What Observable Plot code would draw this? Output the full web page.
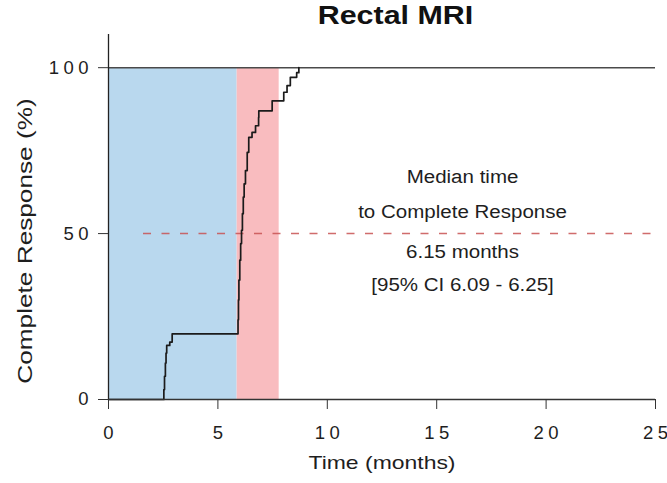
<!DOCTYPE html>
<html><head><meta charset="utf-8">
<script src="https://cdn.jsdelivr.net/npm/d3@7"></script>
<script src="https://cdn.jsdelivr.net/npm/@observablehq/plot@0.6"></script>
<style>
html,body{margin:0;padding:0;background:#fff;}
#title{width:667px;height:33px;line-height:35px;font:bold 26px "Liberation Sans",Arial,sans-serif;text-align:center;color:#111;white-space:nowrap;}
#title span{display:inline-block;transform:scaleX(1.17);margin-left:124px;}
</style></head><body>
<div id="title"><span>Rectal MRI</span></div>
<div id="chart"></div>
<script>
// Kaplan-Meier style cumulative complete response (step-after)
const times = [0, 2.53, 2.56, 2.6, 2.63, 2.66, 2.8, 2.91, 5.92, 5.94, 5.96, 6.0, 6.04, 6.08, 6.12, 6.16, 6.2, 6.26, 6.34, 6.41, 6.56, 6.72, 6.86, 6.87, 7.48, 8.01, 8.16, 8.31, 8.6, 8.7];
const responses = [0, 3, 7, 11, 14, 16.3, 17.3, 19.8, 24, 30, 36, 42, 47, 51, 56, 61, 65, 69, 74.5, 79, 80.5, 82.5, 85, 87, 90, 92.6, 94.6, 97.1, 98.5, 100];
const blueWindow = [0, 5.88];
const pinkWindow = [5.88, 7.8];
const fullResponse = 100;
const medianLevel = 50;
const xTicks = [0, 5, 10, 15, 20, 25];
const yTicks = [0, 50, 100];
const noteLines = ["Median time", "to Complete Response", "6.15 months", "[95% CI 6.09 - 6.25]"];
const noteY = [67, 56.4, 44.4, 34.4];
const xLabel = "Time (months)";
const yLabel = "Complete Response (%)";

const curve = times.map((t, i) => ({t, r: responses[i]}));
const notes = noteLines.map((s, i) => ({s, y: noteY[i]}));

const plot = Plot.plot({
  width: 667, height: 450,
  marginTop: 1, marginBottom: 84, marginLeft: 108, marginRight: 12,
  style: {fontFamily: "'Liberation Sans', Arial, sans-serif", fontSize: "18.5px", color: "#1e1e1e", background: "#fff"},
  x: {domain: [0, 25]},
  y: {domain: [0, 110]},
  marks: [
    Plot.rect([blueWindow], {x1: d => d[0], x2: d => d[1], y1: () => 0, y2: () => fullResponse, fill: "#b9d8ee"}),
    Plot.rect([pinkWindow], {x1: d => d[0], x2: d => d[1], y1: () => 0, y2: () => fullResponse, fill: "#f9bcbf"}),
    Plot.ruleY([fullResponse], {x1: 0, x2: 25, stroke: "#4a4a4a", strokeWidth: 1.5}),
    Plot.ruleY([medianLevel], {x1: 1.6, x2: 24.8, stroke: "#c85252", strokeOpacity: 0.85, strokeWidth: 1.5, strokeDasharray: "8,10.5"}),
    Plot.line(curve, {x: "t", y: "r", curve: "step-after", stroke: "#1b1b1b", strokeWidth: 1.7}),
    Plot.ruleX([0], {y1: 0, y2: 110, stroke: "#222", strokeWidth: 1.3}),
    Plot.ruleY([0], {x1: 0, x2: 25, stroke: "#333", strokeWidth: 1.5}),
    Plot.axisX({ticks: xTicks, tickSize: 10, tickPadding: 16, label: null, stroke: "#333", tickFormat: d => String(d)}),
    Plot.axisY({ticks: yTicks, tickSize: 10, tickPadding: 10, label: null, stroke: "#333", tickFormat: d => String(d)}),
    Plot.text(notes, {x: () => 16.18, y: "y", text: "s", fontSize: 18, lineAnchor: "middle", fill: "#1e1e1e"}),
    Plot.text([xLabel], {frameAnchor: "bottom", dy: 64, textAnchor: "middle", lineAnchor: "middle", fontSize: 18.5, fill: "#1e1e1e"}),
    Plot.text([yLabel], {frameAnchor: "left", rotate: -90, dx: -83, dy: 24, textAnchor: "middle", lineAnchor: "middle", fontSize: 20, fill: "#1e1e1e"})
  ]
});
document.getElementById("chart").appendChild(plot);

function stretchText(content, k) {
  plot.querySelectorAll("text").forEach(t => {
    if (t.textContent !== content) return;
    const w = t.getComputedTextLength();
    if (w > 0) { t.setAttribute("textLength", w * k); t.setAttribute("lengthAdjust", "spacingAndGlyphs"); }
  });
}
function spaceOut(selector, gap) {
  plot.querySelectorAll(selector).forEach(t => {
    const n = t.textContent.length, w = t.getComputedTextLength();
    if (n > 1) { t.setAttribute("textLength", w + (n - 1) * gap); t.setAttribute("lengthAdjust", "spacing"); }
  });
}
spaceOut('g[aria-label="x-axis tick label"] text', 4.5);
spaceOut('g[aria-label="y-axis tick label"] text', 4.5);
noteLines.forEach(s => stretchText(s, 1.14));
stretchText(xLabel, 1.24);
stretchText(yLabel, 1.31);
</script>
</body></html>
